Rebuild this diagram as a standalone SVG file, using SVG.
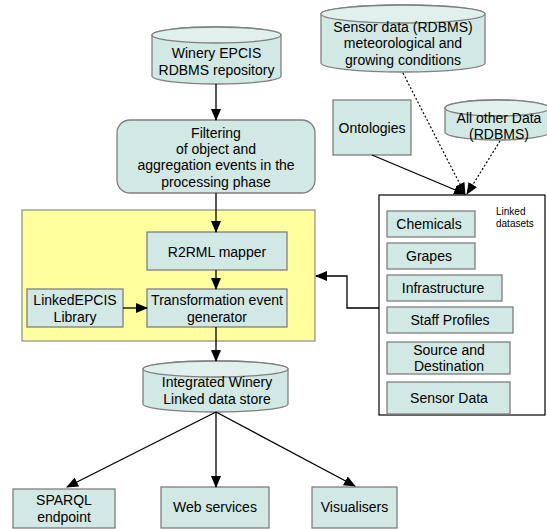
<svg xmlns="http://www.w3.org/2000/svg" width="547" height="529" viewBox="0 0 547 529">
<defs>
<marker id="ah" markerUnits="userSpaceOnUse" markerWidth="12" markerHeight="10" refX="11" refY="5" orient="auto">
<path d="M0,0 L12,5 L0,10 Z" fill="#000"/>
</marker>
<style>
.box{fill:#d2e8e4;stroke:#7f7f7f;stroke-width:1.3}
.cyl{fill:#d2e8e4;stroke:#7f7f7f;stroke-width:1.3}
.top{fill:#dff0ed;stroke:#7f7f7f;stroke-width:1.3}
.t{font-family:"Liberation Sans",Arial,sans-serif;font-size:14px;fill:#000;text-anchor:middle}
.s{font-family:"Liberation Sans",Arial,sans-serif;font-size:10px;fill:#000}
.c{stroke:#000;stroke-width:1.3;fill:none}
.d{stroke:#000;stroke-width:1.2;fill:none;stroke-dasharray:2 2}
</style>
</defs>
<rect width="547" height="529" fill="#fff"/>

<g id="processing-area">
<rect x="22" y="210" width="293" height="131" fill="#ffff9e" stroke="#8c8c8c" stroke-width="1.2"/>
</g>

<g id="winery-epcis">
<path class="cyl" d="M152,35 A64.5,8 0 0 1 281,35 V76 A64.5,8 0 0 1 152,76 Z"/>
<ellipse class="top" cx="216.5" cy="35" rx="64.5" ry="8"/>
<text class="t" x="216.5" y="58">Winery EPCIS</text>
<text class="t" x="216.5" y="75">RDBMS repository</text>
</g>

<g id="filtering">
<rect class="box" x="117" y="120" width="198" height="73" rx="13"/>
<text class="t" x="216" y="138">Filtering</text>
<text class="t" x="216" y="154">of object and</text>
<text class="t" x="216" y="170">aggregation events in the</text>
<text class="t" x="216" y="187">processing phase</text>
</g>

<g id="r2rml">
<rect class="box" x="147" y="232" width="140" height="38"/>
<text class="t" x="217" y="257">R2RML mapper</text>
</g>

<g id="transformation">
<rect class="box" x="147" y="289" width="140" height="38"/>
<text class="t" x="217" y="305">Transformation event</text>
<text class="t" x="217" y="322">generator</text>
</g>

<g id="linkedepcis">
<rect class="box" x="27" y="289" width="96" height="38"/>
<text class="t" x="75" y="305">LinkedEPCIS</text>
<text class="t" x="75" y="322">Library</text>
</g>

<g id="integrated-store">
<path class="cyl" d="M143,369 A72.5,8 0 0 1 288,369 V404 A72.5,8 0 0 1 143,404 Z"/>
<ellipse class="top" cx="215.5" cy="369" rx="72.5" ry="8"/>
<text class="t" x="217" y="387">Integrated Winery</text>
<text class="t" x="217" y="404">Linked data store</text>
</g>

<g id="sparql">
<rect class="box" x="13" y="489" width="102" height="39"/>
<text class="t" x="64" y="505">SPARQL</text>
<text class="t" x="64" y="522">endpoint</text>
</g>

<g id="web-services">
<rect class="box" x="161" y="487" width="108" height="41"/>
<text class="t" x="215" y="512">Web services</text>
</g>

<g id="visualisers">
<rect class="box" x="312" y="487" width="85" height="41"/>
<text class="t" x="354.5" y="512">Visualisers</text>
</g>

<g id="sensor-rdbms">
<path class="cyl" d="M321,14 A82,9 0 0 1 485,14 V63 A82,9 0 0 1 321,63 Z"/>
<ellipse class="top" cx="403" cy="14" rx="82" ry="9"/>
<text class="t" x="403" y="32">Sensor data (RDBMS)</text>
<text class="t" x="403" y="48">meteorological and</text>
<text class="t" x="403" y="65">growing conditions</text>
</g>

<g id="ontologies">
<rect class="box" x="333" y="100" width="78" height="55"/>
<text class="t" x="372" y="133">Ontologies</text>
</g>

<g id="all-other-data">
<path class="cyl" d="M445,108 A52,8 0 0 1 549,108 V132 A52,8 0 0 1 445,132 Z"/>
<ellipse class="top" cx="497" cy="108" rx="52" ry="8"/>
<text class="t" x="499" y="123">All other Data</text>
<text class="t" x="499" y="139">(RDBMS)</text>
</g>

<g id="linked-datasets">
<rect x="379" y="195" width="166" height="220" fill="#fff" stroke="#000" stroke-width="1.2"/>
<text class="s" x="496" y="215">Linked</text>
<text class="s" x="496" y="227">datasets</text>
</g>

<g id="chemicals">
<rect class="box" x="387" y="211" width="88" height="26"/>
<text class="t" x="429" y="229">Chemicals</text>
</g>
<g id="grapes">
<rect class="box" x="387" y="243" width="88" height="26"/>
<text class="t" x="429" y="261">Grapes</text>
</g>
<g id="infrastructure">
<rect class="box" x="387" y="275" width="115" height="26"/>
<text class="t" x="443" y="293">Infrastructure</text>
</g>
<g id="staff-profiles">
<rect class="box" x="387" y="307" width="126" height="26"/>
<text class="t" x="450" y="325">Staff Profiles</text>
</g>
<g id="source-destination">
<rect class="box" x="387" y="342" width="123" height="32"/>
<text class="t" x="449" y="355">Source and</text>
<text class="t" x="449" y="371">Destination</text>
</g>
<g id="sensor-data">
<rect class="box" x="387" y="382" width="123" height="32"/>
<text class="t" x="449" y="403">Sensor Data</text>
</g>

<g id="connectors">
<line class="c" x1="216" y1="84" x2="216" y2="120" marker-end="url(#ah)"/>
<line class="c" x1="216" y1="193" x2="216" y2="232" marker-end="url(#ah)"/>
<line class="c" x1="216" y1="270" x2="216" y2="289" marker-end="url(#ah)"/>
<line class="c" x1="123" y1="308" x2="147" y2="308" marker-end="url(#ah)"/>
<line class="c" x1="216" y1="327" x2="216" y2="361" marker-end="url(#ah)"/>
<line class="c" x1="216" y1="412" x2="67" y2="487" marker-end="url(#ah)"/>
<line class="c" x1="216" y1="412" x2="216" y2="487" marker-end="url(#ah)"/>
<line class="c" x1="216" y1="412" x2="355" y2="486" marker-end="url(#ah)"/>
<polyline class="c" points="379,308 347,308 347,276 316,276" marker-end="url(#ah)"/>
<line class="d" x1="403" y1="73" x2="465" y2="194" marker-end="url(#ah)"/>
<line class="c" x1="372" y1="155" x2="465" y2="194" marker-end="url(#ah)"/>
<line class="d" x1="500" y1="141" x2="467" y2="194" marker-end="url(#ah)"/>
</g>
</svg>
